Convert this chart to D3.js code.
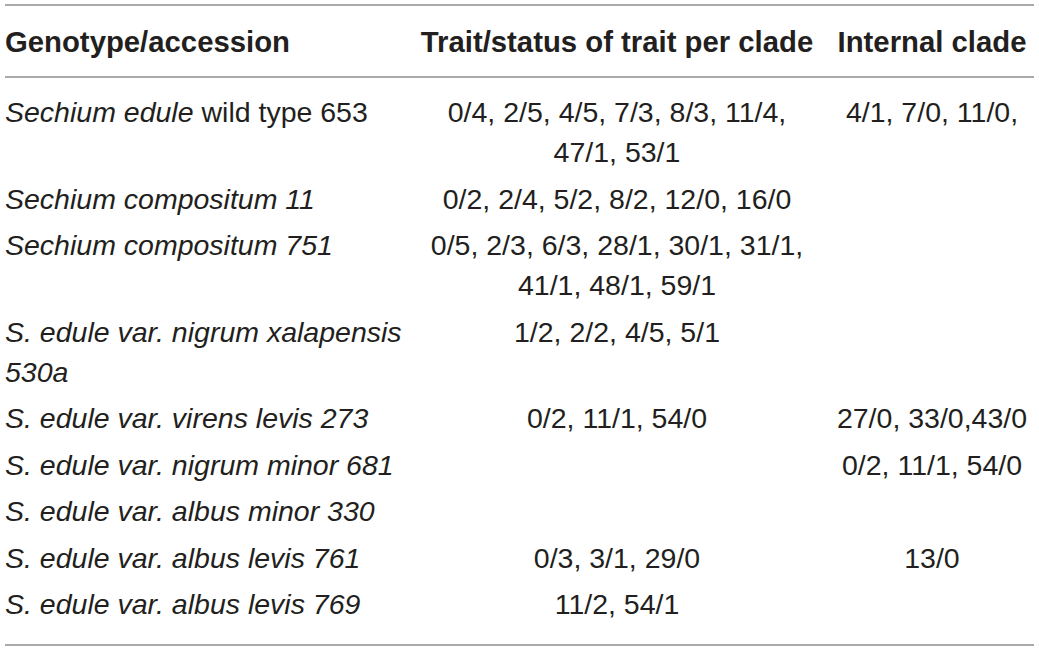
<!DOCTYPE html>
<meta charset="utf-8">
<html>
<head>
    <title>Genotype traits table</title>
    <script src="https://cdn.jsdelivr.net/npm/d3@7"></script>
</head>
<style>
    body{
        margin: 0;
        background: white;
    }
    svg{
        display: block;
    }
    text{
        fill: #231f20;
        font-family: "Liberation Sans", Arial, sans-serif;
        font-size: 28.5px;
    }
    .head{
        font-weight: bold;
        font-size: 29.3px;
    }
    line.rule{
        stroke: #a9a9a9;
        stroke-width: 2px;
    }
</style>
<body>
<svg></svg>
<script>

    // column headers
    let headers = ["Genotype/accession", "Trait/status of trait per clade", "Internal clade"]

    // genotype names: each line is a list of [text, italic] pieces
    let genotypes = [
        [[["Sechium edule", true], [" wild type 653", false]]],
        [[["Sechium compositum 11", true]]],
        [[["Sechium compositum 751", true]]],
        [[["S. edule var. nigrum xalapensis", true]], [["530a", true]]],
        [[["S. edule var. virens levis 273", true]]],
        [[["S. edule var. nigrum minor 681", true]]],
        [[["S. edule var. albus minor 330", true]]],
        [[["S. edule var. albus levis 761", true]]],
        [[["S. edule var. albus levis 769", true]]]
    ]

    // trait/status per clade (wrapped lines)
    let traits = [
        ["0/4, 2/5, 4/5, 7/3, 8/3, 11/4,", "47/1, 53/1"],
        ["0/2, 2/4, 5/2, 8/2, 12/0, 16/0"],
        ["0/5, 2/3, 6/3, 28/1, 30/1, 31/1,", "41/1, 48/1, 59/1"],
        ["1/2, 2/2, 4/5, 5/1"],
        ["0/2, 11/1, 54/0"],
        [],
        [],
        ["0/3, 3/1, 29/0"],
        ["11/2, 54/1"]
    ]

    // internal clade
    let internal = [
        ["4/1, 7/0, 11/0,"],
        [],
        [],
        [],
        ["27/0, 33/0,43/0"],
        ["0/2, 11/1, 54/0"],
        [],
        ["13/0"],
        []
    ]

    //*****************************
    // page geometry
    let W = 1039, H = 651
    let left = 5, right = 1034
    let lineGap = 40      // between wrapped lines in a cell
    let rowGap = 46.5     // from last line of a row to first line of next
    let colX = [left, 617, 932]

    let svg = d3.select("svg").attr("width", W).attr("height", H)

    //*****************************
    // row layout: baseline of first line of each row
    let rows = genotypes.map((g, i) => ({
        name: g,
        trait: traits[i],
        internal: internal[i],
        lines: Math.max(g.length, traits[i].length, internal[i].length, 1)
    }))
    let y = 122
    rows.forEach(r => {
        r.y = y
        y += (r.lines - 1) * lineGap + rowGap
    })

    //*****************************
    // rules
    let rules = [5, 77, 645]
    svg.selectAll("line.rule")
        .data(rules)
        .enter()
        .append("line")
        .attr("class", "rule")
        .attr("x1", left)
        .attr("x2", right)
        .attr("y1", d => d)
        .attr("y2", d => d)

    //*****************************
    // header
    svg.selectAll("text.head")
        .data(headers)
        .enter()
        .append("text")
        .attr("class", "head")
        .attr("x", (d, i) => colX[i])
        .attr("y", 52)
        .attr("text-anchor", (d, i) => i == 0 ? "start" : "middle")
        .text(d => d)

    //*****************************
    // body
    let g = svg.selectAll("g.row")
        .data(rows)
        .enter()
        .append("g")
        .attr("class", "row")
        .attr("transform", d => "translate(0," + d.y + ")")

    // genotype column
    g.each(function(r) {
        let t = d3.select(this).append("text").attr("x", colX[0])
        r.name.forEach((line, li) => {
            line.forEach((piece, pi) => {
                let ts = t.append("tspan")
                    .style("font-style", piece[1] ? "italic" : "normal")
                    .text(piece[0])
                if (pi == 0) ts.attr("x", colX[0]).attr("y", li * lineGap)
            })
        })
    })

    // centred columns
    function centred(sel, key, x) {
        sel.append("text")
            .attr("text-anchor", "middle")
            .selectAll("tspan")
            .data(d => d[key])
            .enter()
            .append("tspan")
            .attr("x", x)
            .attr("y", (d, i) => i * lineGap)
            .text(d => d)
    }
    centred(g, "trait", colX[1])
    centred(g, "internal", colX[2])
</script>
</body>
</html>
